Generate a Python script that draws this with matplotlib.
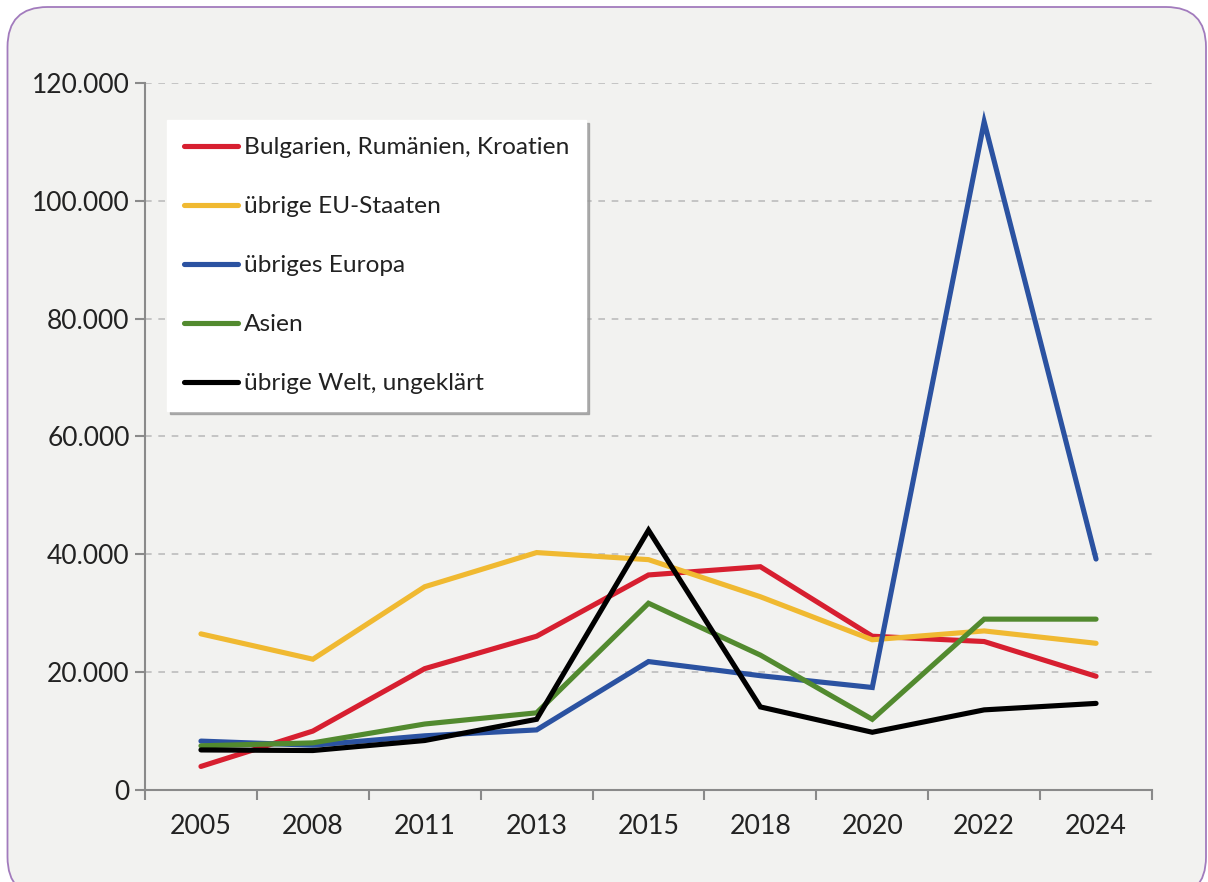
import matplotlib
matplotlib.use("Agg")
import matplotlib.pyplot as plt
from matplotlib.patches import FancyBboxPatch
import numpy as np

# data
years = ["2005", "2008", "2011", "2013", "2015", "2018", "2020", "2022", "2024"]
bg_ro_hr = [4000, 10000, 20600, 26100, 36500, 37900, 26100, 25200, 19300]
eu_rest = [26500, 22200, 34500, 40300, 39100, 32800, 25500, 27000, 24900]
europa_rest = [8300, 7600, 9200, 10200, 21800, 19400, 17400, 113400, 39200]
asien = [7500, 8000, 11200, 13100, 31700, 22900, 12000, 29000, 29000]
welt_rest = [6800, 6700, 8400, 12000, 44100, 14100, 9800, 13600, 14700]

labels = ["Bulgarien, Rumänien, Kroatien", "übrige EU-Staaten", "übriges Europa",
          "Asien", "übrige Welt, ungeklärt"]
colors = ["#d71f30", "#f0b931", "#2b52a1", "#528a2f", "#000000"]
yticks = [0, 20000, 40000, 60000, 80000, 100000, 120000]

plt.rcParams['font.family'] = ['Lato', 'DejaVu Sans']

fig = plt.figure(figsize=(12.08, 8.82), dpi=100)
fig.patch.set_facecolor("white")

# rounded panel behind the chart
panel = FancyBboxPatch((0.075, -0.15), 11.985, 8.90,
                       boxstyle="round,pad=0,rounding_size=0.4",
                       transform=fig.dpi_scale_trans,
                       facecolor="#f2f2f0", edgecolor="#a27bbd", linewidth=1.3,
                       zorder=-10)
fig.patches.append(panel)

ax = fig.add_axes([145/1208, 92/882, 1007/1208, 707/882])
ax.set_facecolor("none")

x = np.arange(len(years))
series = [bg_ro_hr, eu_rest, europa_rest, asien, welt_rest]
for vals, lab, col in zip(series, labels, colors):
    ax.plot(x, vals, color=col, lw=3.7, label=lab, solid_capstyle="round",
            solid_joinstyle="miter")

ax.set_xlim(-0.5, len(years) - 0.5)
ax.set_ylim(0, 120000)
ax.set_yticks(yticks)
ax.set_yticklabels([f"{v:,}".replace(",", ".") for v in yticks])
ax.set_xticks(x)
ax.set_xticklabels(years)
ax.set_xticks(np.arange(-0.5, len(years)), minor=True)
ax.tick_params(axis="x", which="major", length=0, pad=17, labelsize=19.3, colors="#222222")
ax.tick_params(axis="x", which="minor", length=7, width=1.5, color="#8a8a8a", direction="out")
ax.tick_params(axis="y", length=7, width=1.5, color="#8a8a8a", pad=4, labelsize=19,
               labelcolor="#222222")

ax.grid(axis="y", color="#bdbdbd", ls=(0, (4, 4)), lw=1.2)
ax.set_axisbelow(True)
for s in ["top", "right"]:
    ax.spines[s].set_visible(False)
for s in ["left", "bottom"]:
    ax.spines[s].set_color("#8a8a8a")
    ax.spines[s].set_linewidth(1.5)

leg = ax.legend(loc="upper left", bbox_to_anchor=(167/1208, 1 - 120/882),
                bbox_transform=fig.transFigure, frameon=True, fancybox=False,
                shadow={"color": "#9a9a9a", "alpha": 0.8}, fontsize=17.6,
                handlelength=2.2, handletextpad=0.25, labelspacing=1.55,
                borderpad=0.7, borderaxespad=0, edgecolor="white")
leg.get_frame().set_facecolor("white")
leg.get_frame().set_alpha(1)
for t in leg.get_texts():
    t.set_color("#222222")

fig.savefig("out.png", dpi=100)
